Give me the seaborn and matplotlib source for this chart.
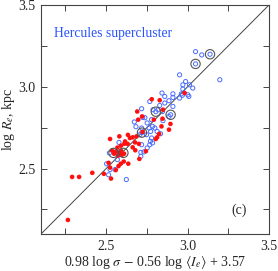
import numpy as np
import matplotlib
matplotlib.use('Agg')
import matplotlib.pyplot as plt
import seaborn as sns

# ---- data ----
red_x = [2.291, 2.334, 2.415, 2.486, 2.530, 2.265, 2.515, 2.524, 2.559, 2.576,
         2.590, 2.608, 2.636, 2.704, 2.679, 2.524, 2.581, 2.634, 2.612, 2.591,
         2.677, 2.687, 2.569, 2.561, 2.579, 2.591, 2.610, 2.573, 2.598, 2.549,
         2.537, 2.691, 2.721, 2.697, 2.646, 2.663, 2.616, 2.632, 2.663, 2.701,
         2.780, 2.829, 2.793, 2.846, 2.840, 2.895, 2.886, 2.825, 2.813, 2.805,
         2.744, 2.724, 2.982, 2.849]
red_y = [2.449, 2.449, 2.474, 2.468, 2.439, 2.186, 2.535, 2.506, 2.491, 2.515,
         2.530, 2.543, 2.530, 2.559, 2.612, 2.681, 2.697, 2.706, 2.652, 2.640,
         2.660, 2.697, 2.628, 2.604, 2.598, 2.610, 2.591, 2.579, 2.585, 2.591,
         2.610, 2.849, 2.819, 2.799, 2.687, 2.691, 2.666, 2.651, 2.630, 2.651,
         2.924, 2.918, 2.799, 2.805, 2.758, 2.773, 2.738, 2.712, 2.691, 2.681,
         2.606, 2.724, 2.962, 2.860]

blue_x = [2.503, 2.515, 2.524, 2.624, 2.713, 2.713, 2.520, 2.579, 2.569, 2.555,
          2.718, 2.673, 2.718, 2.683, 2.707, 2.718, 2.724, 2.768, 2.788, 2.819,
          2.829, 2.860, 2.886, 2.910, 2.951, 2.968, 3.008, 2.779, 2.752, 2.764,
          2.785, 2.773, 2.748, 2.799, 2.813, 2.779, 2.785, 2.768, 2.752, 2.732,
          2.846, 2.849, 2.910, 2.860, 2.886, 3.049, 3.087, 2.951, 3.198, 2.988,
          3.012, 2.971, 2.843, 2.910, 2.971, 2.962, 3.002, 3.032, 2.772, 2.834,
          2.738, 3.049, 3.138, 2.720, 2.805, 2.896]
blue_y = [2.529, 2.462, 2.494, 2.433, 2.599, 2.575, 2.595, 2.660, 2.555, 2.494,
          2.866, 2.785, 2.748, 2.756, 2.707, 2.646, 2.813, 2.910, 2.860, 2.860,
          2.886, 2.901, 2.915, 2.935, 2.931, 2.948, 2.941, 2.799, 2.779, 2.748,
          2.758, 2.727, 2.707, 2.748, 2.727, 2.687, 2.657, 2.646, 2.626, 2.602,
          2.849, 2.793, 2.880, 2.941, 2.819, 3.215, 3.195, 3.073, 3.043, 3.032,
          3.012, 3.012, 2.962, 2.957, 2.986, 2.957, 2.951, 2.992, 2.667, 2.713,
          2.811, 3.140, 3.199, 2.720, 2.848, 2.829]

# highlighted galaxies (large black rings)
ring_x = [2.545, 2.606, 2.720, 2.805, 2.896, 3.049, 3.138]
ring_y = [2.596, 2.596, 2.720, 2.848, 2.829, 3.140, 3.199]

lims = [2.1, 3.5]
major = [2.5, 3.0, 3.5]
minor = [2.25, 2.75, 3.25]

sns.set_style('ticks')
plt.rcParams['font.family'] = ['Liberation Serif', 'DejaVu Serif']
plt.rcParams['mathtext.fontset'] = 'stix'

fig = plt.figure(figsize=(2.78, 2.71), dpi=100)
ax = fig.add_axes([0.1475, 0.1365, 0.82, 0.845])

ax.plot(lims, lims, color='#444444', lw=0.7, zorder=1)
sns.scatterplot(x=red_x, y=red_y, ax=ax, s=11, color='#ff1010', edgecolor='none',
                linewidth=0, zorder=3)
sns.scatterplot(x=blue_x, y=blue_y, ax=ax, s=9, facecolor='none', edgecolor='#4a6cff',
                linewidth=0.7, zorder=2)
sns.scatterplot(x=ring_x, y=ring_y, ax=ax, s=45, facecolor='none', edgecolor='#555555',
                linewidth=0.8, zorder=4)

ax.set_xlim(lims)
ax.set_ylim(lims)
ax.set_xticks(major)
ax.set_yticks(major)
ax.set_xticks(minor, minor=True)
ax.set_yticks(minor, minor=True)
ax.set_xticklabels(['2.5', '3.0', '3.5'])
ax.set_yticklabels(['2.5', '3.0', '3.5'])
ax.tick_params(which='both', direction='in', top=True, right=True, length=4,
               width=0.7, color='#444444', labelsize=10, pad=4)
for sp in ax.spines.values():
    sp.set_linewidth(0.8)
    sp.set_color('#444444')

ax.set_xlabel(r'0.98 log $\sigma$ $-$ 0.56 log $\langle I_e\rangle$ + 3.57', fontsize=10, labelpad=1)
ax.set_ylabel(r'log $R_e$, kpc', fontsize=10, labelpad=1)

ax.text(0.057, 0.875, 'Hercules supercluster', transform=ax.transAxes,
        color='#2a55ff', fontsize=9.8, va='center', ha='left')
ax.text(0.87, 0.105, '(c)', transform=ax.transAxes, fontsize=10,
        va='center', ha='center')

fig.savefig('out.png', dpi=100)
